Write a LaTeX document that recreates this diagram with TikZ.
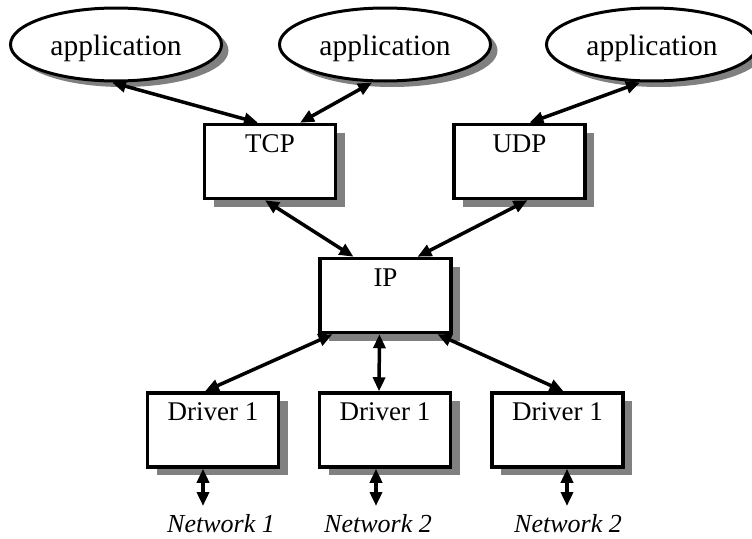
\documentclass[tikz,border=0pt]{standalone}
\usepackage{fontspec}
\setmainfont{Liberation Serif}
\usetikzlibrary{shapes.geometric,shadows,arrows.meta,calc}

\begin{document}
\begin{tikzpicture}[x=1pt,y=-1pt,
  appnode/.style={ellipse, draw, line width=3pt, fill=white,
    minimum width=211pt, minimum height=73pt, inner sep=0pt,
    text height=27pt, text depth=6pt, font=\fontsize{29.5}{31}\selectfont,
    drop shadow={shadow xshift=7pt, shadow yshift=-6pt, fill=black!50, opacity=1}},
  layerbox/.style={rectangle, draw, line width=3.5pt, fill=white,
    minimum width=131pt, minimum height=74pt, inner sep=0pt,
    text height=27.5pt, text depth=46.5pt, font=\fontsize{27}{30}\selectfont,
    drop shadow={shadow xshift=9pt, shadow yshift=-8pt, fill=black!50, opacity=1}},
  netlabel/.style={anchor=base, inner sep=0pt, font=\fontsize{26}{28}\selectfont\itshape},
  link/.style={line width=3.5pt,
    {Triangle[length=14pt,width=12pt]}-{Triangle[length=14pt,width=12pt]}}]

\useasboundingbox (0,0) rectangle (752,538);
\clip (0,0) rectangle (752,538);

% application processes
\node[appnode] (app1) at (116,44.5) {application};
\node[appnode] (app2) at (385,44.5) {application};
\node[appnode] (app3) at (652,44.5) {application};

% transport layer
\node[layerbox] (tcp) at (270,161.5) {TCP};
\node[layerbox] (udp) at (519.5,161.5) {UDP};

% network layer
\node[layerbox] (ip) at (385.5,295.5) {IP};

% device drivers
\node[layerbox] (drv1) at (213,430) {Driver 1};
\node[layerbox] (drv2) at (385,430) {Driver 1};
\node[layerbox] (drv3) at (557.5,430) {Driver 1};

% attached networks
\coordinate (net1) at (203,506);
\coordinate (net2) at (376,506);
\coordinate (net3) at (567,506);
\node[netlabel] (lab1) at (221,532) {Network 1};
\node[netlabel] (lab2) at (378,532) {Network 2};
\node[netlabel] (lab3) at (568,532) {Network 2};

% applications <-> transport
\draw[link] ($(app1.south)+(-4,0)$) -- ($(tcp.north)+(-12,0)$);
\draw[link] ($(app2.south)+(-13,0)$) -- ($(tcp.north)+(30,0)$);
\draw[link] ($(app3.south)+(-12,0)$) -- ($(udp.north)+(10,0)$);

% transport <-> IP
\draw[link] ($(tcp.south)+(-5,0)$) -- ($(ip.north)+(-32,0)$);
\draw[link] ($(udp.south)+(8,0)$) -- ($(ip.north)+(32,0)$);

% IP <-> drivers
\draw[link] ($(ip.south)+(-53,0)$) -- ($(drv1.north)+(-8,0)$);
\draw[link] ($(ip.south)+(-6,0)$) -- ($(drv2.north)+(-6,0)$);
\draw[link] ($(ip.south)+(52,0)$) -- ($(drv3.north)+(6,0)$);

% drivers <-> networks
\draw[link] (drv1.south -| net1) -- (net1);
\draw[link] (drv2.south -| net2) -- (net2);
\draw[link] (drv3.south -| net3) -- (net3);

\end{tikzpicture}
\end{document}
